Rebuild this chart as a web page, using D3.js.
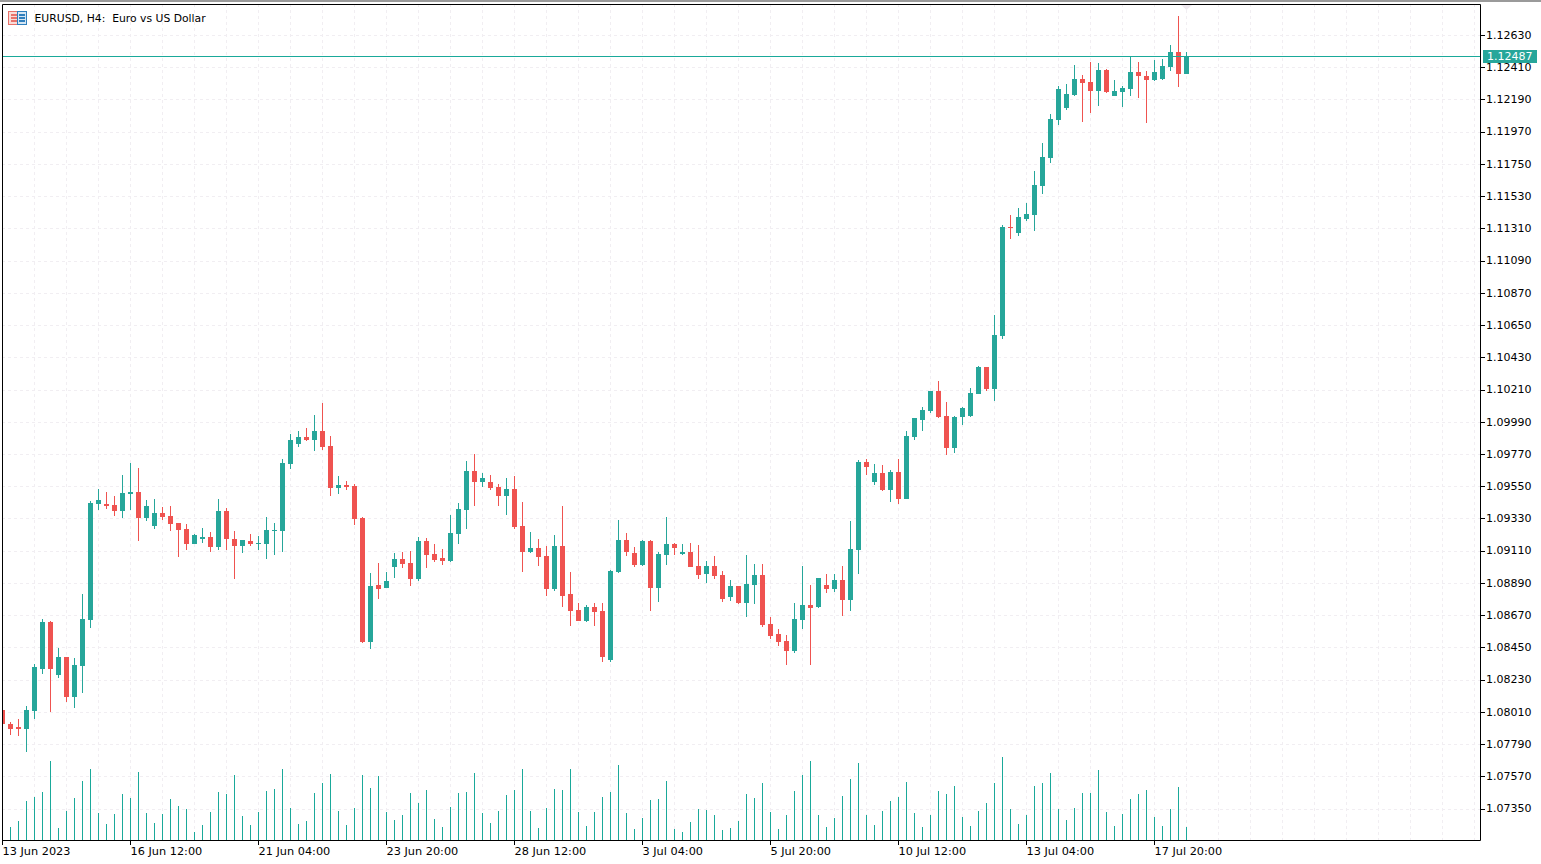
<!DOCTYPE html>
<html>
<head>
<meta charset="utf-8">
<script src="https://d3js.org/d3.v7.min.js"></script>
<style>
  html, body { margin: 0; padding: 0; background: #fff; overflow: hidden; }
  text { font-family: "DejaVu Sans", sans-serif; font-size: 11px; fill: #000; }
</style>
</head>
<body>
<div id="my_dataviz"></div>
<script>
// EURUSD H4 bars
var opens = [
  1.08023,1.07927,1.07907,1.07893,1.08016,1.08303,1.08624,1.08262,1.08385,1.08112,
  1.08323,1.08637,1.09429,1.09429,1.09422,1.09381,1.09497,1.09511,1.09334,1.09279,
  1.09368,1.09347,1.09299,1.09258,1.09156,1.09190,1.09204,1.09136,1.09381,1.09190,
  1.09142,1.09177,1.09156,1.09156,1.09245,1.09245,1.09702,1.09839,1.09886,1.09866,
  1.09927,1.09825,1.09538,1.09559,1.09552,1.09334,1.08487,1.08876,1.08856,1.08999,
  1.09054,1.09026,1.08917,1.09177,1.09088,1.09061,1.09040,1.09224,1.09388,1.09654,
  1.09579,1.09579,1.09545,1.09484,1.09532,1.09279,1.09101,1.09129,1.09074,1.08849,
  1.09142,1.08815,1.08706,1.08631,1.08726,1.08699,1.08364,1.08965,1.09183,1.09095,
  1.09013,1.09177,1.08856,1.09081,1.09156,1.09088,1.09101,1.09006,1.08951,1.09006,
  1.08944,1.08794,1.08869,1.08753,1.08876,1.08944,1.08610,1.08542,1.08494,1.08426,
  1.08637,1.08740,1.08726,1.08876,1.08849,1.08910,1.08774,1.09115,1.09716,1.09579,
  1.09641,1.09525,1.09648,1.09463,1.09887,1.10003,1.10064,1.10200,1.10030,1.09811,
  1.10023,1.10030,1.10180,1.10364,1.10214,1.10576,1.11320,1.11279,1.11374,1.11401,
  1.11599,1.11790,1.12050,1.12132,1.12221,1.12330,1.12309,1.12248,1.12391,1.12214,
  1.12241,1.12262,1.12378,1.12350,1.12323,1.12330,1.12412,1.12514,1.12364
];
var highs = [
  1.08023,1.07941,1.07962,1.08050,1.08337,1.08644,1.08631,1.08446,1.08385,1.08378,
  1.08815,1.09450,1.09532,1.09511,1.09484,1.09627,1.09709,1.09675,1.09456,1.09463,
  1.09409,1.09415,1.09299,1.09293,1.09224,1.09265,1.09238,1.09463,1.09402,1.09245,
  1.09183,1.09224,1.09211,1.09340,1.09299,1.09736,1.09907,1.09927,1.09948,1.10037,
  1.10119,1.09893,1.09620,1.09586,1.09566,1.09340,1.08958,1.09026,1.08965,1.09095,
  1.09101,1.09108,1.09204,1.09197,1.09156,1.09122,1.09354,1.09436,1.09723,1.09770,
  1.09641,1.09627,1.09566,1.09607,1.09620,1.09443,1.09238,1.09190,1.09142,1.09218,
  1.09415,1.08965,1.08753,1.08740,1.08753,1.08753,1.08979,1.09320,1.09231,1.09136,
  1.09183,1.09183,1.09101,1.09340,1.09163,1.09156,1.09163,1.09149,1.09040,1.09074,
  1.08972,1.08910,1.08869,1.09081,1.09020,1.09020,1.08658,1.08576,1.08535,1.08753,
  1.09006,1.08876,1.08924,1.08951,1.08951,1.09006,1.09313,1.09729,1.09736,1.09702,
  1.09695,1.09661,1.09736,1.09927,1.10016,1.10091,1.10200,1.10269,1.10125,1.10030,
  1.10091,1.10221,1.10371,1.10364,1.10719,1.11334,1.11402,1.11449,1.11483,1.11702,
  1.11893,1.12091,1.12282,1.12296,1.12425,1.12357,1.12446,1.12439,1.12398,1.12323,
  1.12282,1.12487,1.12446,1.12384,1.12459,1.12466,1.12562,1.12760,1.12514
];
var lows = [
  1.07929,1.07852,1.07846,1.07736,1.07962,1.08269,1.08009,1.08241,1.08078,1.08037,
  1.08139,1.08583,1.09388,1.09395,1.09347,1.09334,1.09388,1.09177,1.09313,1.09258,
  1.09320,1.09245,1.09067,1.09115,1.09156,1.09163,1.09101,1.09115,1.09115,1.08917,
  1.09095,1.09142,1.09115,1.09054,1.09081,1.09101,1.09668,1.09818,1.09859,1.09791,
  1.09798,1.09484,1.09497,1.09525,1.09286,1.08480,1.08439,1.08781,1.08856,1.08924,
  1.08992,1.08869,1.08904,1.08992,1.09033,1.09013,1.09033,1.09156,1.09258,1.09415,
  1.09545,1.09525,1.09415,1.09354,1.09258,1.08965,1.09095,1.09006,1.08801,1.08835,
  1.08726,1.08596,1.08631,1.08624,1.08596,1.08351,1.08351,1.08958,1.09074,1.08999,
  1.09006,1.08699,1.08760,1.09013,1.09081,1.09081,1.08999,1.08917,1.08890,1.08917,
  1.08760,1.08767,1.08747,1.08658,1.08747,1.08590,1.08508,1.08460,1.08330,1.08412,
  1.08576,1.08330,1.08719,1.08822,1.08828,1.08665,1.08699,1.08951,1.09627,1.09559,
  1.09518,1.09443,1.09429,1.09463,1.09866,1.09927,1.10050,1.10016,1.09764,1.09777,
  1.09968,1.10023,1.10180,1.10200,1.10132,1.10555,1.11238,1.11258,1.11361,1.11292,
  1.11545,1.11756,1.12016,1.12118,1.12214,1.12036,1.12098,1.12145,1.12234,1.12214,
  1.12139,1.12214,1.12200,1.12029,1.12316,1.12323,1.12384,1.12275,1.12364
];
var closes = [
  1.07929,1.07893,1.07893,1.08023,1.08317,1.08624,1.08303,1.08385,1.08112,1.08330,
  1.08644,1.09436,1.09456,1.09415,1.09381,1.09504,1.09511,1.09334,1.09415,1.09368,
  1.09340,1.09293,1.09252,1.09156,1.09218,1.09204,1.09136,1.09381,1.09190,1.09142,
  1.09183,1.09156,1.09163,1.09252,1.09252,1.09709,1.09866,1.09886,1.09866,1.09927,
  1.09818,1.09538,1.09559,1.09545,1.09327,1.08487,1.08869,1.08849,1.08904,1.09054,
  1.09020,1.08917,1.09177,1.09081,1.09047,1.09040,1.09231,1.09395,1.09654,1.09579,
  1.09607,1.09538,1.09484,1.09532,1.09272,1.09101,1.09129,1.09067,1.08849,1.09142,
  1.08801,1.08699,1.08631,1.08726,1.08692,1.08385,1.08972,1.09183,1.09101,1.09013,
  1.09177,1.08856,1.09088,1.09156,1.09129,1.09101,1.08999,1.08944,1.09006,1.08938,
  1.08781,1.08869,1.08753,1.08883,1.08944,1.08603,1.08528,1.08487,1.08426,1.08644,
  1.08740,1.08719,1.08924,1.08849,1.08910,1.08774,1.09122,1.09716,1.09682,1.09641,
  1.09525,1.09648,1.09463,1.09893,1.10016,1.10071,1.10200,1.10023,1.09811,1.10023,
  1.10084,1.10187,1.10364,1.10214,1.10583,1.11320,1.11313,1.11388,1.11408,1.11606,
  1.11797,1.12057,1.12262,1.12227,1.12330,1.12302,1.12248,1.12391,1.12241,1.12248,
  1.12268,1.12378,1.12350,1.12323,1.12378,1.12419,1.12514,1.12364,1.12487
];
// tick volume
var volumes = [
  300,390,570,1170,1290,1440,2370,360,870,1260,
  1770,2130,810,480,780,1380,1260,2040,810,510,
  780,1230,1020,930,240,450,840,1440,1380,1950,
  720,450,840,1470,1530,2130,960,480,570,1410,
  1710,1980,870,450,960,1950,1560,1920,840,600,
  750,1410,1110,1500,630,390,990,1410,1440,2010,
  810,510,870,1350,1500,2130,870,360,960,1530,
  1500,2130,840,420,840,1290,1440,2250,810,330,
  660,1200,1230,1770,330,240,540,930,900,750,
  300,360,570,1380,1260,1710,840,330,750,1470,
  1950,2370,750,390,660,1320,1830,2310,750,450,
  870,1170,1290,1740,810,390,750,1470,1380,1620,
  690,420,870,1110,1710,2490,930,480,750,1620,
  1710,2010,930,600,960,1410,1410,2100,840,420,
  780,1230,1380,1500,690,420,930,1590,390
];
var priceTicks = [
  1.12630,1.12410,1.12190,1.11970,1.11750,1.11530,1.11310,1.11090,1.10870,1.10650,
  1.10430,1.10210,1.09990,1.09770,1.09550,1.09330,1.09110,1.08890,1.08670,1.08450,
  1.08230,1.08010,1.07790,1.07570,1.07350
];
var timeLabels = [
  "13 Jun 2023","16 Jun 12:00","21 Jun 04:00","23 Jun 20:00","28 Jun 12:00",
  "3 Jul 04:00","5 Jul 20:00","10 Jul 12:00","13 Jul 04:00","17 Jul 20:00"
];
var lastPrice = 1.12487;
var title = "EURUSD, H4:  Euro vs US Dollar";

var width = 1541, height = 864;
var frame = {left: 2, top: 4, right: 1480, bottom: 840};
var bull = "#26a69a", bear = "#ef5350", thin = "#1aa99a", gridColor = "#f1eef2";

var bars = opens.map(function(o, i) {
  return {i: i, open: o, high: highs[i], low: lows[i], close: closes[i], volume: volumes[i]};
});

var x = d3.scaleLinear().domain([0, bars.length - 1]).range([2.5, 1186.5]);
var y = d3.scaleLinear().domain([1.0735, 1.1263]).range([808.5, 35]);
var yVol = d3.scaleLinear().domain([0, 2700]).range([840, 750]);

var svg = d3.select("#my_dataviz")
  .append("svg")
    .attr("width", width)
    .attr("height", height)
    .style("display", "block");

svg.append("defs").append("clipPath").attr("id", "plot")
  .append("rect")
    .attr("x", frame.left)
    .attr("y", frame.top)
    .attr("width", frame.right - frame.left)
    .attr("height", frame.bottom - frame.top);

// window edge at the very top
svg.append("rect").attr("width", width).attr("height", 2).attr("fill", "#9a9a9a");

// grid
var gridY = priceTicks.map(function(p) { return Math.round(y(p)) + 0.5; });
var gridXIdx = d3.range(4, 370, 4);
var plot = svg.append("g").attr("clip-path", "url(#plot)");

plot.selectAll(".gridh").data(gridY).enter().append("line")
  .attr("x1", frame.left).attr("x2", frame.right)
  .attr("y1", function(d) { return d; }).attr("y2", function(d) { return d; })
  .attr("stroke", gridColor).attr("stroke-dasharray", "3,3");

plot.selectAll(".gridv").data(gridXIdx).enter().append("line")
  .attr("x1", function(d) { return x(d); }).attr("x2", function(d) { return x(d); })
  .attr("y1", frame.top).attr("y2", frame.bottom)
  .attr("stroke", gridColor).attr("stroke-dasharray", "3,3");

// volumes
plot.selectAll(".vol").data(bars).enter().append("line")
  .attr("x1", function(d) { return x(d.i); }).attr("x2", function(d) { return x(d.i); })
  .attr("y1", function(d) { return yVol(d.volume); }).attr("y2", frame.bottom)
  .attr("stroke", thin);

// candles
plot.selectAll(".wick").data(bars).enter().append("line")
  .attr("x1", function(d) { return x(d.i); }).attr("x2", function(d) { return x(d.i); })
  .attr("y1", function(d) { return y(d.high); }).attr("y2", function(d) { return y(d.low); })
  .attr("stroke", function(d) { return d.close >= d.open ? bull : bear; })
  .attr("shape-rendering", "crispEdges");

plot.selectAll(".body").data(bars).enter().append("rect")
  .attr("x", function(d) { return x(d.i) - 2.5; })
  .attr("width", 5)
  .attr("y", function(d) { return y(Math.max(d.open, d.close)); })
  .attr("height", function(d) { return Math.max(1, Math.abs(y(d.open) - y(d.close))); })
  .attr("fill", function(d) { return d.close >= d.open ? bull : bear; })
  .attr("shape-rendering", "crispEdges");

// chart shift marker
svg.append("path").attr("d", "M1181,5L1192,5L1186.5,10Z").attr("fill", "#efe9ef");

// current price line
var lastY = Math.round(y(lastPrice)) + 0.5;
svg.append("line")
  .attr("x1", frame.left).attr("x2", frame.right)
  .attr("y1", lastY).attr("y2", lastY)
  .attr("stroke", thin);

// frame
svg.append("path")
  .attr("d", "M" + (frame.left + 0.5) + "," + (frame.top + 0.5) + "H" + (frame.right + 0.5) +
             "V" + (frame.bottom + 0.5) + "H" + (frame.left + 0.5) + "Z")
  .attr("fill", "none").attr("stroke", "#000");

// price axis
var py = svg.append("g");
py.selectAll("line").data(priceTicks).enter().append("line")
  .attr("x1", frame.right).attr("x2", frame.right + 5)
  .attr("y1", function(d) { return Math.round(y(d)) + 0.5; })
  .attr("y2", function(d) { return Math.round(y(d)) + 0.5; })
  .attr("stroke", "#000");
py.selectAll("text").data(priceTicks).enter().append("text")
  .attr("x", 1486)
  .attr("y", function(d) { return y(d) + 3.8; })
  .text(function(d) { return d.toFixed(5); });

// last price tag
svg.append("rect")
  .attr("x", 1483).attr("y", lastY - 6.5)
  .attr("width", 54).attr("height", 13)
  .attr("fill", bull);
svg.append("text")
  .attr("x", 1487).attr("y", lastY + 3.5)
  .style("fill", "#fff")
  .text(lastPrice.toFixed(5));

// time axis
var tx = svg.append("g");
tx.selectAll("line").data(timeLabels).enter().append("line")
  .attr("x1", function(d, i) { return x(i * 16); })
  .attr("x2", function(d, i) { return x(i * 16); })
  .attr("y1", frame.bottom).attr("y2", frame.bottom + 5)
  .attr("stroke", "#000");
tx.selectAll("text").data(timeLabels).enter().append("text")
  .attr("x", function(d, i) { return x(i * 16); })
  .attr("y", 855)
  .style("font-size", "11.3px")
  .text(function(d) { return d; });

// symbol icon + title
var icon = svg.append("g").attr("transform", "translate(8,11)");
icon.append("rect").attr("x", 0.5).attr("y", 0.5).attr("width", 9).attr("height", 13).attr("fill", "#f9dcd8").attr("stroke", "#e8726a");
icon.append("rect").attr("x", 9.5).attr("y", 0.5).attr("width", 9).attr("height", 13).attr("fill", "#d5e6f3").attr("stroke", "#2f7fbd");
[3, 6, 9].forEach(function(v) {
  icon.append("rect").attr("x", 3).attr("y", v).attr("width", 6).attr("height", 2).attr("fill", "#e8726a");
  icon.append("rect").attr("x", 11).attr("y", v).attr("width", 6).attr("height", 2).attr("fill", "#2f7fbd");
});
svg.append("text")
  .attr("x", 34.5).attr("y", 22)
  .attr("xml:space", "preserve")
  .style("white-space", "pre")
  .style("font-size", "10.8px")
  .text(title);
</script>
</body>
</html>
